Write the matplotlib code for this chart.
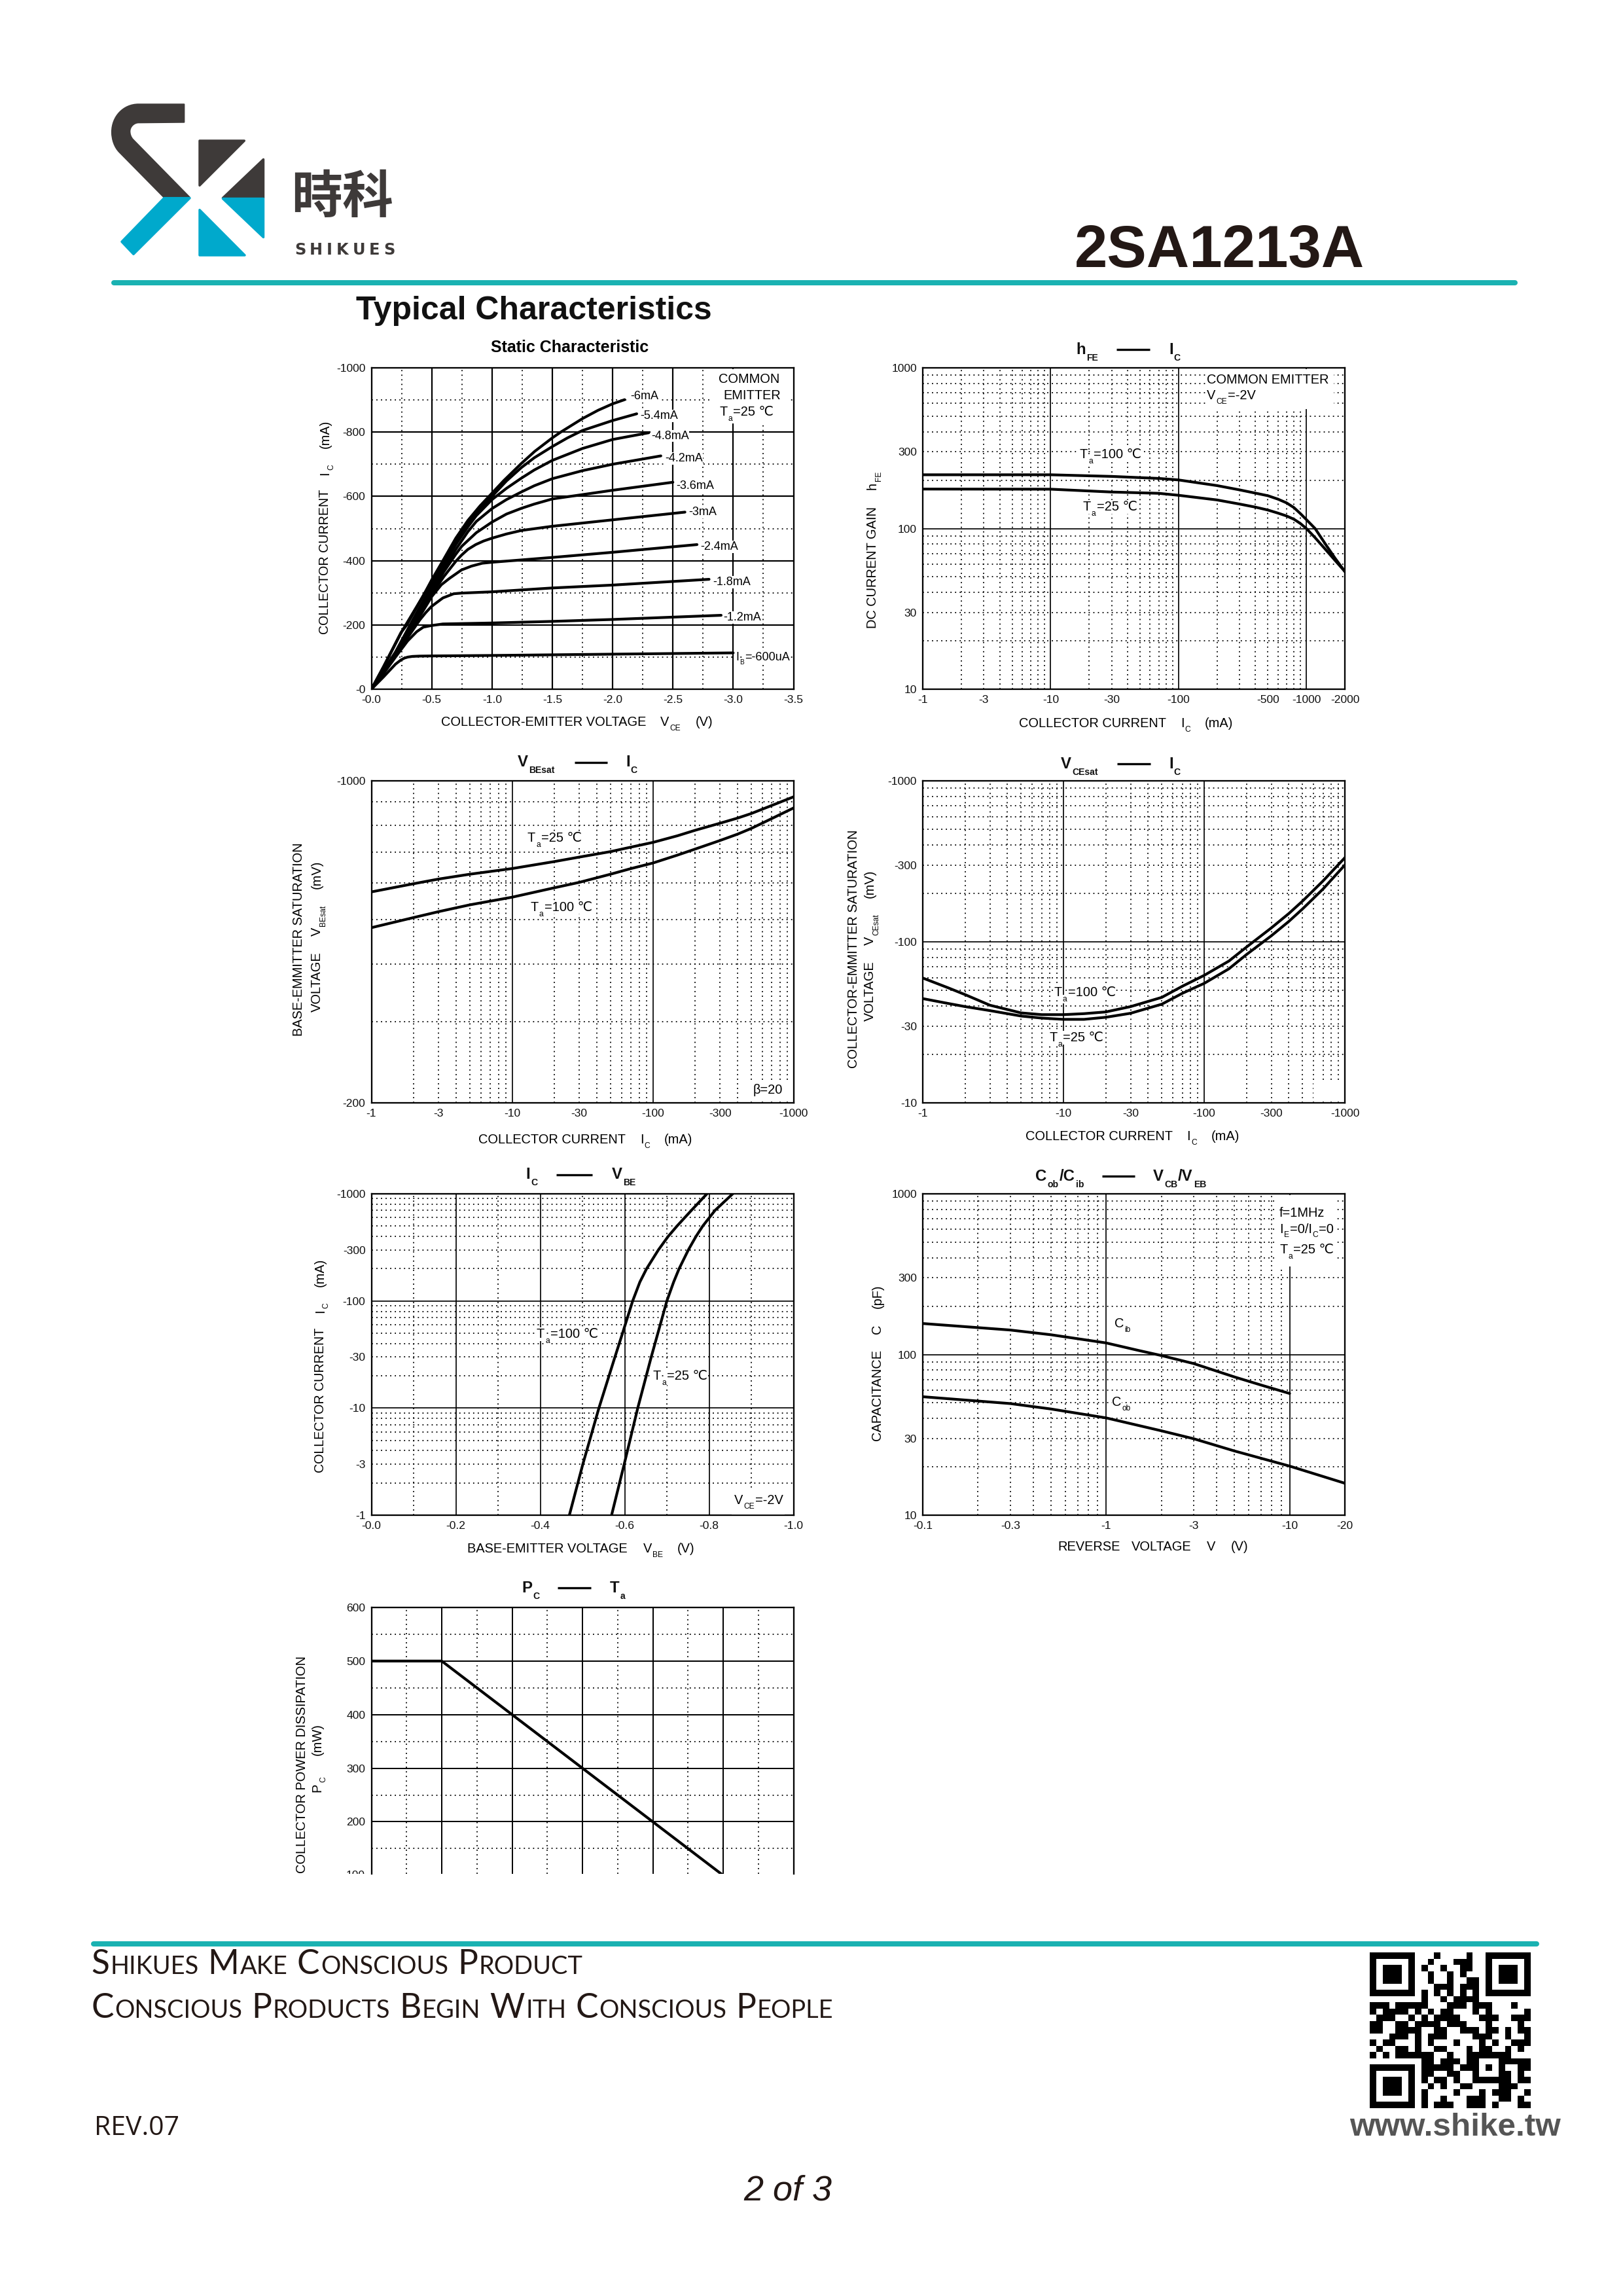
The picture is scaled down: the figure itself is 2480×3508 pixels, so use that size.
import matplotlib
matplotlib.use('Agg')
import matplotlib.pyplot as plt
import numpy as np
from matplotlib.patches import Rectangle, PathPatch, Polygon
from matplotlib.path import Path
from matplotlib.ticker import NullLocator

W, H = 2480, 3508
plt.rcParams['font.family'] = ['Liberation Sans', 'DejaVu Sans']

# static characteristic: Vce (V) / Ic (mA), one curve per base current
ib_labels = ['-6mA', '-5.4mA', '-4.8mA', '-4.2mA', '-3.6mA', '-3mA', '-2.4mA', '-1.8mA', '-1.2mA']
v_600u = [0, .1, .2, .245, .275, .303, .34, .4, .5, 1, 2, 3]
i_600u = [0, 38, 78, 91, 97, 100, 102, 103, 103.5, 105, 109, 113]
v_1m2 = [0, .1, .2, .3, .376, .43, .497, .593, 1, 1.5, 2, 2.9]
i_1m2 = [0, 48, 100, 150, 179, 193, 198, 203, 206, 211, 217, 230]
v_1m8 = [0, .1, .2, .3, .4, .45, .497, .55, .593, .683, .747, 1, 1.5, 2, 2.8]
i_1m8 = [0, 50, 106, 160, 215, 238, 257, 272, 284, 297, 299, 303, 315, 324, 342]
v_2m4 = [0, .2, .3, .4, .5, .58, .648, .747, .83, .92, 1, 1.5, 2, 2.7]
i_2m4 = [0, 108, 166, 226, 288, 325, 345, 371, 383, 392, 395, 410, 426, 450]
v_3m = [0, .2, .4, .5, .6, .7, .747, .8, .865, .93, 1, 1.12, 1.245, 1.5, 2, 2.6]
i_3m = [0, 110, 232, 295, 350, 398, 417, 435, 450, 461, 470, 483, 494, 507, 527, 551]
v_3m6 = [0, .2, .4, .5, .6, .7, .75, .87, 1, 1.12, 1.245, 1.35, 1.5, 2, 2.5]
i_3m6 = [0, 112, 240, 302, 365, 420, 445, 487, 520, 545, 563, 576, 592, 619, 644]
v_4m2 = [0, .2, .4, .5, .6, .7, .8, .87, 1, 1.12, 1.245, 1.35, 1.5, 1.75, 2, 2.4]
i_4m2 = [0, 114, 245, 310, 372, 435, 490, 522, 562, 590, 614, 633, 655, 680, 700, 726]
v_4m8 = [0, .2, .4, .5, .6, .7, .8, .87, 1, 1.12, 1.245, 1.35, 1.5, 1.75, 2, 2.3]
i_4m8 = [0, 116, 255, 322, 385, 450, 505, 540, 590, 625, 657, 682, 712, 749, 777, 798]
v_5m4 = [0, .1, .25, .5, .6, .7, .8, .9, 1, 1.12, 1.245, 1.35, 1.5, 1.626, 1.75, 2, 2.2]
i_5m4 = [0, 68, 178, 335, 398, 462, 517, 562, 600, 648, 690, 720, 755, 782, 805, 836, 857]
v_6m = [0, .1, .245, .294, .43, .5, .593, .7, .8, .9, 1, 1.1, 1.245, 1.354, 1.5, 1.57, 1.75, 1.88, 2, 2.1]
i_6m = [0, 70, 176, 200, 291, 340, 400, 470, 525, 570, 610, 650, 703, 740, 782, 800, 842, 868, 888, 901]

# hFE vs Ic
hfe_ic = [1, 10, 30, 70, 100, 200, 300, 400, 500, 600, 700, 800, 900, 1000, 1170, 1430, 1680, 2000]
hfe_100 = [216, 216, 211, 205, 200.6, 185, 174, 166, 160, 152.3, 144.4, 134.9, 123.6, 113.6, 100, 78.6, 65.2, 54]
hfe_25 = [176, 175.7, 168.7, 165.6, 161, 150.6, 142, 135.8, 130.3, 124.7, 119.7, 114.2, 107.3, 100, 87.7, 73.2, 63.2, 54]

# VBEsat vs Ic
vbe_ic = [1, 2, 3, 5, 10, 20, 30, 50, 70, 100, 150, 200, 300, 400, 500, 700, 1000]
vbe_25 = [574, 598, 612, 627, 645, 668, 683, 702, 718, 735, 760, 781, 809, 830, 849, 884, 923]
vbe_100 = [480, 505, 520, 538, 559, 586, 602, 627, 645, 663, 690, 711, 742, 766, 788, 828, 873]

# VCEsat vs Ic
vce_ic = [1, 1.5, 2, 3, 5, 7, 10, 14, 20, 30, 50, 70, 100, 150, 200, 300, 400, 500, 700, 1000]
vce_100 = [59.6, 52, 47, 40.4, 36.2, 35.3, 35.3, 35.8, 36.7, 39.6, 45.2, 53, 61.9, 76, 92.8, 122, 150, 179, 239, 333]
vce_25 = [44.4, 41.5, 39.6, 37.4, 34.6, 33.6, 33, 33, 34, 36, 41, 47.9, 55.2, 68, 83.4, 109, 134, 160, 213, 300]

# Ic vs VBE
ic_100 = [1, 3, 10, 30, 50, 100, 150, 200, 300, 400, 500, 700, 1000]
vb_100 = [.469, .501, .539, .577, .595, .619, .636, .652, .68, .703, .724, .758, .795]
ic_25 = [1, 3, 10, 30, 100, 150, 200, 300, 400, 500, 700, 1000]
vb_25 = [.569, .599, .631, .663, .70, .716, .729, .751, .769, .785, .814, .856]

# capacitance vs reverse voltage
cib_v = [.1, .3, .5, 1, 1.5, 2, 3, 5, 7, 10]
cib = [155.9, 142, 132.7, 118, 106, 98.5, 87.8, 72.5, 64.5, 57.2]
cob_v = [.1, .3, .5, 1, 2, 3, 5, 10, 20]
cob = [54.6, 49.5, 45.8, 40.3, 33.5, 29.9, 25.1, 20.2, 15.8]

# Pc vs Ta
ta_vals = [0, 25, 125]
pc_vals = [500, 500, 100]

# QR code, one string per module row
qr_rows = [
    "#######...#....#..#######",
    "#.....#..#...###..#.....#",
    "#.###.#.#..#..##..#.###.#",
    "#.###.#..#..#.#...#.###.#",
    "#.###.#..#..#..##.#.###.#",
    "#.....#...###.###.#.....#",
    "#######.#.#.#.#.#.#######",
    "........#..#.####........",
    "###.#####...###.###...#..",
    "#.####.#.#.##...#.#.....#",
    ".###..#.#.####...###..###",
    "##..##.####.###...#....#.",
    "##..####..##..###.##.#.##",
    "...###.#.###....###..#..#",
    "#.##...#.#...#...#.#..###",
    ".#..##.#..##...#.##..#.#.",
    "#.#.######..#..#######...",
    "........##.###.##...#####",
    "#######.#####.###.#.#..##",
    "#.....#.##..##..#...##.#.",
    "#.###.#.#.##.#..######.##",
    "#.###.#..#.#..##....###..",
    "#.###.#.#....#...#.###..#",
    "#.....#.#..#...###..##.#.",
    "#######.#.###..###.#...##",
]

fig = plt.figure(figsize=(W / 100, H / 100), dpi=100, facecolor='white')
page = fig.add_axes([0, 0, 1, 1])
page.set_xlim(0, W)
page.set_ylim(H, 0)
page.axis('off')
page.set_zorder(10)
page.patch.set_visible(False)
renderer = fig.canvas.get_renderer()


def runs(x, y, parts, rot=0, weight='normal', bg=False, color='black', family=None, style='normal'):
    # parts: (text, size in px, shift down in px, gap before in px)
    adv = 0
    for text, size, dy, gap in parts:
        adv += gap
        tx, ty = (x + adv, y + dy) if rot == 0 else (x + dy, y - adv)
        t = page.text(tx, ty, text, fontsize=size * 0.72, rotation=rot, rotation_mode='anchor',
                      ha='left', va='baseline', weight=weight, color=color, style=style, zorder=2)
        if family:
            t.set_family(family)
        if bg:
            t.set_bbox(dict(fc='white', ec='none', pad=0.5))
        bb = t.get_window_extent(renderer)
        adv += bb.width if rot == 0 else bb.height
    return adv


def mask(x0, y0, x1, y1, z=1):
    page.add_patch(Rectangle((x0, y0), x1 - x0, y1 - y0, fc='white', ec='none', zorder=z))


def ta_label(x, y, val):
    runs(x, y, [('T', 20, 0, 0), ('a', 12, 8, 1), ('=%d ℃' % val, 20, 0, 1)], bg=True)


def title(x, y, left, x_dash, y_dash, x_right, right):
    runs(x, y, left, weight='bold', color='#111111')
    page.plot([x_dash[0], x_dash[1]], [y_dash, y_dash], color='black', lw=2.4, solid_capstyle='butt')
    runs(x_right, y, right, weight='bold', color='#111111')


def log_minor(lo, hi):
    return [m * 10.0 ** d for d in range(-2, 4) for m in range(2, 10) if lo < m * 10.0 ** d < hi]


def chart(box, xscale, yscale, xlim, ylim, xt, xl, yt, yl, xmaj, xmin, ymaj, ymin, glw=1.7):
    x0, y0, x1, y1 = box
    ax = fig.add_axes([x0 / W, 1 - y1 / H, (x1 - x0) / W, (y1 - y0) / H])
    ax.set_xscale(xscale)
    ax.set_yscale(yscale)
    ax.set_xlim(*xlim)
    ax.set_ylim(*ylim)
    ax.set_xticks(xt, xl)
    ax.set_yticks(yt, yl)
    ax.xaxis.set_minor_locator(NullLocator())
    ax.yaxis.set_minor_locator(NullLocator())
    ax.tick_params(length=0, labelsize=17.5 * 0.72, pad=6.5, colors='#111111')
    for s in ax.spines.values():
        s.set_linewidth(2.3 * 0.72)
    dots = dict(color='black', lw=1.3, ls=(0, (1, 2.9)), zorder=1)
    for v in xmin:
        ax.axvline(v, **dots)
    for v in ymin:
        ax.axhline(v, **dots)
    for v in xmaj:
        ax.axvline(v, color='black', lw=glw * 0.72, zorder=1.5)
    for v in ymaj:
        ax.axhline(v, color='black', lw=glw * 0.72, zorder=1.5)
    return ax


curve = dict(color='black', lw=3.0, solid_joinstyle='round', solid_capstyle='round', zorder=3)
LX0, LX1, RX0, RX1 = 567.5, 1212.5, 1410, 2055

# static characteristic
ax = chart((LX0, 562, LX1, 1053), 'linear', 'linear', (0, 3.5), (0, 1000),
           [0, .5, 1, 1.5, 2, 2.5, 3, 3.5], ['-0.0', '-0.5', '-1.0', '-1.5', '-2.0', '-2.5', '-3.0', '-3.5'],
           [0, 200, 400, 600, 800, 1000], ['-0', '-200', '-400', '-600', '-800', '-1000'],
           [.5, 1, 1.5, 2, 2.5, 3], [.25, .75, 1.25, 1.75, 2.25, 2.75, 3.25],
           [200, 400, 600, 800], [100, 300, 500, 700, 900], glw=2.2)
for vv, ii in [(v_600u, i_600u), (v_1m2, i_1m2), (v_1m8, i_1m8), (v_2m4, i_2m4), (v_3m, i_3m),
               (v_3m6, i_3m6), (v_4m2, i_4m2), (v_4m8, i_4m8), (v_5m4, i_5m4), (v_6m, i_6m)]:
    ax.plot(vv, ii, **curve)
page.text(871, 537.5, 'Static Characteristic', fontsize=25 * 0.72, weight='bold', ha='center', va='baseline')
mask(1087, 564, 1204, 647)
runs(1098, 585, [('COMMON', 20, 0, 0)])
runs(1105, 610, [('EMITTER', 20, 0, 0)])
ta_label(1099, 634.7, 25)
ib_x = [963, 978, 995, 1016, 1033, 1052, 1070, 1089.5, 1105]
ib_y = [610, 640, 670.6, 705, 747, 787, 840, 894, 948]
for lab, lx, ly in zip(ib_labels, ib_x, ib_y):
    runs(lx, ly, [(lab, 18, 0, 0)], bg=True)
runs(1124.5, 1009, [('I', 18, 0, 0), ('B', 10, 6, 1), ('=-600uA', 18, 0, 1)], bg=True)
runs(673.7, 1109, [('COLLECTOR-EMITTER VOLTAGE', 20, 0, 0), ('V', 20, 0, 22), ('CE', 12, 7, 1), ('(V)', 20, 0, 23)])
runs(502.5, 969, [('COLLECTOR CURRENT', 19.6, 0, 0), ('I', 20, 0, 22), ('C', 12, 7, 2), ('(mA)', 20, 0, 24)], rot=90)

# hFE - Ic
ax = chart((RX0, 562, RX1, 1053), 'log', 'log', (1, 2000), (10, 1000),
           [1, 3, 10, 30, 100, 500, 1000, 2000], ['-1', '-3', '-10', '-30', '-100', '-500', '-1000', '-2000'],
           [10, 30, 100, 300, 1000], ['10', '30', '100', '300', '1000'],
           [10, 100, 1000], log_minor(1, 2000), [100], log_minor(10, 1000))
ax.plot(hfe_ic, hfe_100, **curve)
ax.plot(hfe_ic, hfe_25, **curve)
mask(1842, 564, 2038, 624.5)
runs(1844, 585.7, [('COMMON EMITTER', 20, 0, 0)])
runs(1844, 610, [('V', 20, 0, 0), ('CE', 12, 7, 1), ('=-2V', 20, 0, 1)])
ta_label(1650, 700, 100)
ta_label(1654.5, 780, 25)
title(1644.5, 540.8, [('h', 24, 0, 0), ('FE', 14, 10, 1)], (1706, 1757), 534, 1786, [('I', 24, 0, 0), ('C', 14, 10, 1)])
runs(1557, 1111, [('COLLECTOR CURRENT', 20, 0, 0), ('I', 20, 0, 22), ('C', 12, 7, 1), ('(mA)', 20, 0, 22)])
runs(1339, 960.4, [('DC CURRENT GAIN', 20, 0, 0), ('h', 20, 0, 26), ('FE', 12, 7, 2)], rot=90)

# VBEsat - Ic
ax = chart((LX0, 1193, LX1, 1685), 'log', 'log', (1, 1000), (200, 1000),
           [1, 3, 10, 30, 100, 300, 1000], ['-1', '-3', '-10', '-30', '-100', '-300', '-1000'],
           [200, 1000], ['-200', '-1000'],
           [10, 100], log_minor(1, 1000), [], [300, 400, 500, 600, 700, 800, 900])
ax.plot(vbe_ic, vbe_25, **curve)
ax.plot(vbe_ic, vbe_100, **curve)
ta_label(806, 1286, 25)
ta_label(810.7, 1391.8, 100)
mask(1147, 1652, 1204, 1683)
runs(1151, 1671.4, [('β=20', 20, 0, 0)])
title(791.3, 1171.4, [('V', 24, 0, 0), ('BEsat', 14, 10, 1)], (877.6, 928.4), 1164.5, 956, [('I', 24, 0, 0), ('C', 14, 10, 1)])
runs(731, 1747, [('COLLECTOR CURRENT', 20, 0, 0), ('I', 20, 0, 22), ('C', 12, 7, 1), ('(mA)', 20, 0, 22)])
runs(461.8, 1583, [('BASE-EMMITTER SATURATION', 20, 0, 0)], rot=90)
runs(489.5, 1546, [('VOLTAGE', 20, 0, 0), ('V', 20, 0, 24), ('BEsat', 12, 7, 2), ('(mV)', 20, 0, 25)], rot=90)

# VCEsat - Ic
ax = chart((RX0, 1193, RX1, 1685), 'log', 'log', (1, 1000), (10, 1000),
           [1, 10, 30, 100, 300, 1000], ['-1', '-10', '-30', '-100', '-300', '-1000'],
           [10, 30, 100, 300, 1000], ['-10', '-30', '-100', '-300', '-1000'],
           [10, 100], log_minor(1, 1000), [100], log_minor(10, 1000))
ax.plot(vce_ic, vce_100, **curve)
ax.plot(vce_ic, vce_25, **curve)
mask(2007, 1652, 2046, 1683)
ta_label(1610.5, 1521.6, 100)
ta_label(1603, 1591, 25)
title(1621, 1173.5, [('V', 24, 0, 0), ('CEsat', 14, 10, 1)], (1707.3, 1758), 1167.3, 1786, [('I', 24, 0, 0), ('C', 14, 10, 1)])
runs(1566.6, 1742.4, [('COLLECTOR CURRENT', 20, 0, 0), ('I', 20, 0, 22), ('C', 12, 7, 1), ('(mA)', 20, 0, 22)])
runs(1309.8, 1632, [('COLLECTOR-EMMITTER SATURATION', 20, 0, 0)], rot=90)
runs(1335, 1560, [('VOLTAGE', 20, 0, 0), ('V', 20, 0, 24), ('CEsat', 12, 7, 2), ('(mV)', 20, 0, 24)], rot=90)

# Ic - VBE
ax = chart((LX0, 1824, LX1, 2315), 'linear', 'log', (0, 1), (1, 1000),
           [0, .2, .4, .6, .8, 1], ['-0.0', '-0.2', '-0.4', '-0.6', '-0.8', '-1.0'],
           [1, 3, 10, 30, 100, 300, 1000], ['-1', '-3', '-10', '-30', '-100', '-300', '-1000'],
           [.2, .4, .6, .8], [.1, .3, .5, .7, .9], [10, 100], log_minor(1, 1000))
ax.plot(vb_100, ic_100, **curve)
ax.plot(vb_25, ic_25, **curve)
ta_label(820, 2044, 100)
ta_label(998, 2107.5, 25)
mask(1118, 2276, 1199, 2314)
runs(1122, 2297.8, [('V', 20, 0, 0), ('CE', 12, 7, 1), ('=-2V', 20, 0, 1)])
title(803.4, 1801.4, [('I', 24, 0, 0), ('C', 14, 10, 1)], (850.4, 904.8), 1794.5, 935, [('V', 24, 0, 0), ('BE', 14, 10, 1)])
runs(714, 2372, [('BASE-EMITTER VOLTAGE', 20, 0, 0), ('V', 20, 0, 24), ('BE', 12, 7, 1), ('(V)', 20, 0, 22)])
runs(494.8, 2249.6, [('COLLECTOR CURRENT', 19.6, 0, 0), ('I', 20, 0, 22), ('C', 12, 7, 2), ('(mA)', 20, 0, 24)], rot=90)

# capacitance
ax = chart((RX0, 1824, RX1, 2315), 'log', 'log', (.1, 20), (10, 1000),
           [.1, .3, 1, 3, 10, 20], ['-0.1', '-0.3', '-1', '-3', '-10', '-20'],
           [10, 30, 100, 300, 1000], ['10', '30', '100', '300', '1000'],
           [1, 10], log_minor(.1, 20), [100], log_minor(10, 1000))
ax.plot(cib_v, cib, **curve)
ax.plot(cob_v, cob, **curve)
mask(1949.5, 1826, 2041, 1934.5)
runs(1955, 1859, [('f=1MHz', 20, 0, 0)])
runs(1955, 1883.5, [('I', 20, 0, 0), ('E', 12, 7, 1), ('=0/I', 20, 0, 1), ('C', 12, 7, 1), ('=0', 20, 0, 1)])
ta_label(1955, 1915, 25)
runs(1702.6, 2028, [('C', 20, 0, 0), ('ib', 12, 7, 1)], bg=True)
runs(1699.5, 2147.6, [('C', 20, 0, 0), ('ob', 12, 7, 1)], bg=True)
title(1582.3, 1803.5, [('C', 24, 0, 0), ('ob', 14, 10, 1), ('/C', 24, 0, 1), ('ib', 14, 10, 1)],
      (1683.8, 1734), 1797.3, 1762, [('V', 24, 0, 0), ('CB', 14, 10, 1), ('/V', 24, 0, 1), ('EB', 14, 10, 1)])
runs(1616, 2368.8, [('REVERSE', 20, 0, 0), ('VOLTAGE', 20, 0, 18), ('V', 20, 0, 23), ('(V)', 20, 0, 23)])
runs(1346.4, 2200.6, [('CAPACITANCE', 20, 0, 0), ('C', 20, 0, 24), ('(pF)', 20, 0, 24)], rot=90)

# Pc - Ta, the page crops this chart just above the 100 mW line
ax = chart((LX0, 2456, LX1, 2862.6), 'linear', 'linear', (0, 150), (103.3, 600),
           [], [], [200, 300, 400, 500, 600], ['200', '300', '400', '500', '600'],
           [25, 50, 75, 100, 125], [12.5, 37.5, 62.5, 87.5, 112.5, 137.5],
           [200, 300, 400, 500], [150, 250, 350, 450, 550], glw=2.0)
ax.spines['bottom'].set_visible(False)
ax.plot(ta_vals, pc_vals, **curve)
page.text(557.5, 2865, '100', fontsize=17.5 * 0.72, ha='right', va='center', color='#111111', zorder=2)
mask(510, 2863, 566, 2885, z=3)
title(797.6, 2432.7, [('P', 24, 0, 0), ('C', 14, 10, 1)], (852, 903), 2426, 931.5, [('T', 24, 0, 0), ('a', 14, 10, 1)])
runs(467, 2861.7, [('COLLECTOR POWER DISSIPATION', 20, 0, 0)], rot=90)
runs(490.6, 2738, [('P', 20, 0, 0), ('C', 12, 7, 2), ('(mW)', 20, 0, 32)], rot=90)

# header
DARK, BLUE, TEAL = '#3e3a39', '#00a9cc', '#1ab2b2'


def lz(pts):
    return [(140 + a / 3, 130 + b / 3) for a, b in pts]


s_pts = [(424, 88), (215, 88), (145, 88), (93, 145), (93, 215), (93, 250), (105, 285), (128, 308),
         (332, 515), (450, 515), (190, 250), (178, 238), (175, 222), (175, 212), (175, 190), (195, 172), (215, 172),
         (424, 170), (424, 88)]
s_codes = [Path.MOVETO, Path.LINETO, Path.CURVE4, Path.CURVE4, Path.CURVE4, Path.CURVE4, Path.CURVE4, Path.CURVE4,
           Path.LINETO, Path.LINETO, Path.LINETO, Path.CURVE4, Path.CURVE4, Path.CURVE4, Path.CURVE4, Path.CURVE4,
           Path.CURVE4, Path.LINETO, Path.CLOSEPOLY]
page.add_patch(PathPatch(Path(lz(s_pts), s_codes), fc=DARK, ec=DARK, lw=1.5, joinstyle='round'))
for pts, col in [([(495, 255), (700, 255), (495, 460)], DARK),
                 ([(785, 340), (785, 515), (600, 515)], DARK),
                 ([(600, 518), (785, 518), (785, 695)], BLUE),
                 ([(495, 572), (702, 780), (495, 780)], BLUE),
                 ([(332, 518), (450, 518), (192, 775), (138, 718)], BLUE)]:
    page.add_patch(Polygon(lz(pts), closed=True, fc=col, ec=col, lw=2.5, joinstyle='round'))
page.text(523, 302, '時科', fontsize=78 * 0.72, family=['Noto Sans CJK TC', 'DejaVu Sans'], weight='bold',
          color=DARK, ha='center', va='center')
shikues = [(c, 24, 0, 0 if i == 0 else 5.8) for i, c in enumerate('SHIKUES')]
runs(450, 389, shikues, weight='bold', color=DARK, family=['DejaVu Sans'])
page.text(1642, 408, '2SA1213A', fontsize=90.6 * 0.72, weight='bold', color='#231815', ha='left', va='baseline')
page.plot([174, 2315], [432, 432], color=TEAL, lw=8 * 0.72, solid_capstyle='round')
page.text(544, 488, 'Typical Characteristics', fontsize=50 * 0.72, weight='bold', color='#111111', ha='left', va='baseline')

# footer
page.plot([143, 2348], [2970, 2970], color=TEAL, lw=8 * 0.72, solid_capstyle='round')


def small_caps(x, y, words):
    parts = []
    for i, word in enumerate(words):
        parts.append((word[0], 51.5, 0, 0 if i == 0 else 14))
        parts.append((word[1:].upper(), 38, 0, 1.5))
    runs(x, y, parts, family=['Lato', 'DejaVu Sans'], color='#231815')


small_caps(139, 3016.5, ['Shikues', 'Make', 'Conscious', 'Product'])
small_caps(139, 3083, ['Conscious', 'Products', 'Begin', 'With', 'Conscious', 'People'])
page.text(144, 3261.7, 'REV.07', fontsize=41 * 0.72, family=['Open Sans', 'DejaVu Sans'], color='#231815', ha='left', va='baseline')
page.text(1136, 3362, '2 of 3', fontsize=54 * 0.72, style='italic', color='#231815', ha='left', va='baseline')

qr = np.array([[0 if c == '#' else 1 for c in row] for row in qr_rows])
page.imshow(qr, cmap='gray', vmin=0, vmax=1, extent=(2092.7, 2338.3, 3220.7, 2983.3),
            interpolation='nearest', aspect='auto', zorder=2)
page.set_xlim(0, W)
page.set_ylim(H, 0)
page.text(2062, 3263, 'www.shike.tw', fontsize=49.5 * 0.72, weight='bold', color='#555555', ha='left', va='baseline')

fig.savefig('out.png', dpi=100)
